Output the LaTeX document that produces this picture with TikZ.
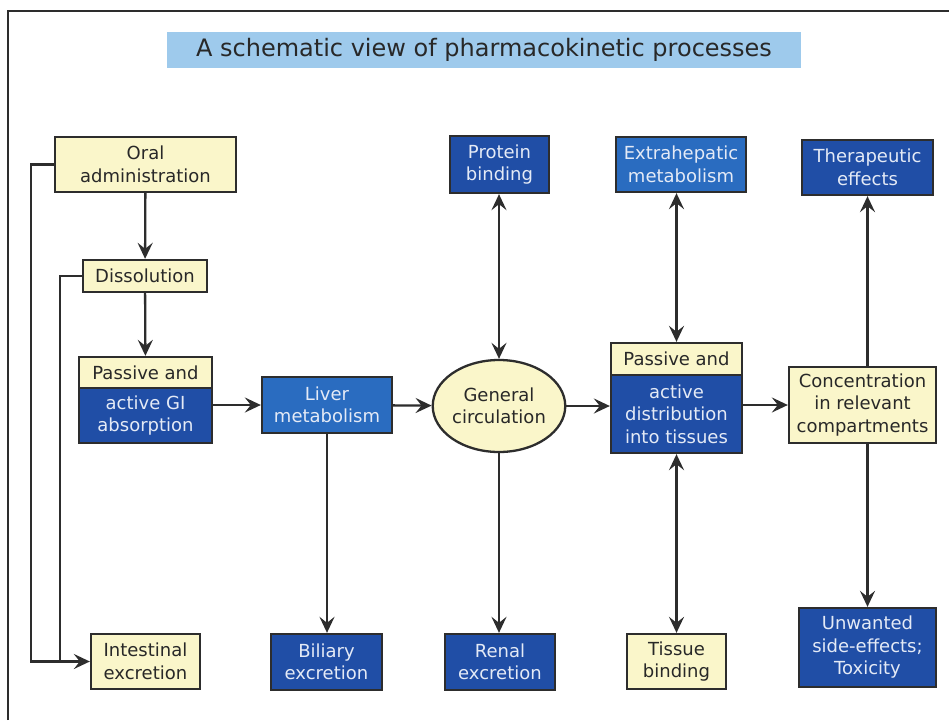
\documentclass[tikz,border=0pt]{standalone}
\usepackage{fontspec}
\setmainfont{DejaVu Sans}
\usetikzlibrary{arrows.meta,shapes.geometric}
\definecolor{dblue}{RGB}{32,78,166}
\definecolor{mblue}{RGB}{42,108,192}
\definecolor{pyellow}{RGB}{250,246,202}
\definecolor{tbar}{RGB}{158,202,236}
\definecolor{lineg}{RGB}{45,45,45}
\definecolor{txtd}{RGB}{40,40,40}
\definecolor{txtl}{RGB}{228,234,246}
\tikzset{
  base/.style={draw=lineg, line width=2.3pt, inner sep=0pt, align=center,
    font=\fontsize{18}{22.5}\selectfont},
  ybox/.style={base, fill=pyellow, text=txtd},
  dbox/.style={base, fill=dblue, text=txtl},
  mbox/.style={base, fill=mblue, text=txtl},
  arr/.style={draw=lineg, line width=2.3pt, -{Stealth[length=16pt,width=15pt,inset=6pt]}},
  darr/.style={draw=lineg, line width=2.3pt, {Stealth[length=16pt,width=15pt,inset=6pt]}-{Stealth[length=16pt,width=15pt,inset=6pt]}},
  plain/.style={draw=lineg, line width=2.3pt},
  frameline/.style={draw=lineg, line width=2.3pt}
}
\begin{document}
\begin{tikzpicture}[x=1pt,y=-1pt]
\useasboundingbox (0,0) rectangle (949,720);
\fill[white] (0,0) rectangle (949,720);
\draw[frameline] (8,720) -- (8,11) -- (949,11);

% title
\node[fill=tbar, minimum width=634pt, minimum height=36pt, inner sep=0pt, text=txtd,
  font=\fontsize{24}{28}\selectfont] (title) at (484,50) {A schematic view of pharmacokinetic processes};

% left column
\node[ybox, minimum width=181pt, minimum height=55pt] (oral) at (145.5,164.5) {Oral\\administration};
\node[ybox, minimum width=124pt, minimum height=32pt] (diss) at (145,276) {Dissolution};
\node[ybox, minimum width=133pt, minimum height=31pt] (giA) at (145.5,372.5) {Passive and};
\node[dbox, minimum width=133pt, minimum height=55pt] (giB) at (145.5,415.5) {active GI\\absorption};
\node[ybox, minimum width=109pt, minimum height=55pt] (intest) at (145.5,661.5) {Intestinal\\excretion};

% liver
\node[mbox, minimum width=130pt, minimum height=56pt] (liver) at (327,405) {Liver\\metabolism};
\node[dbox, minimum width=111pt, minimum height=56pt] (biliary) at (326.5,662) {Biliary\\excretion};

% circulation
\node[base, ellipse, fill=pyellow, text=txtd, minimum width=115pt, minimum height=92pt] (circ) at (499,406) {General\\circulation};
\node[dbox, minimum width=99pt, minimum height=57pt] (protein) at (499.5,164.5) {Protein\\binding};
\node[dbox, minimum width=110pt, minimum height=56pt] (renal) at (500,662) {Renal\\excretion};

% distribution
\node[mbox, minimum width=130pt, minimum height=55pt] (extra) at (681,164.5) {Extrahepatic\\metabolism};
\node[ybox, minimum width=131pt, minimum height=32pt] (distA) at (676.5,359) {Passive and};
\node[dbox, minimum width=131pt, minimum height=78pt] (distB) at (676.5,414) {active\\distribution\\into tissues};
\node[ybox, minimum width=99pt, minimum height=55pt] (tissue) at (676.5,661.5) {Tissue\\binding};

% concentration
\node[dbox, minimum width=131pt, minimum height=55pt] (ther) at (867.5,167.5) {Therapeutic\\effects};
\node[ybox, minimum width=147pt, minimum height=76pt] (conc) at (862.5,405) {Concentration\\in relevant\\compartments};
\node[dbox, minimum width=137pt, minimum height=79pt] (unw) at (867.5,647.5) {Unwanted\\side-effects;\\Toxicity};

% connectors
\draw[arr] (oral) -- (diss);
\draw[arr] (diss) -- (giA);
\coordinate (L1) at (31,661.5);
\coordinate (L2) at (60,661.5);
\draw[arr] (oral.west) -| (L1) -- (intest.west);
\draw[plain] (diss.west) -| (L2);
\draw[arr] (liver.west -| giB.east) -- (liver.west);
\draw[arr] (liver) -- (circ);
\draw[arr] (liver.south) -- (liver.south |- biliary.north);
\draw[darr] (protein.south -| circ.north) -- (circ.north);
\draw[arr] (circ.south) -- (circ.south |- renal.north);
\draw[arr] (circ.east) -- (circ.east -| distB.west);
\draw[darr] (distA.north |- extra.south) -- (distA.north);
\draw[darr] (tissue.north) -- (tissue.north |- distB.south);
\draw[arr] (conc.west -| distB.east) -- (conc.west);
\draw[arr] (ther.south |- conc.north) -- (ther.south);
\draw[arr] (unw.north |- conc.south) -- (unw.north);
\end{tikzpicture}
\end{document}
